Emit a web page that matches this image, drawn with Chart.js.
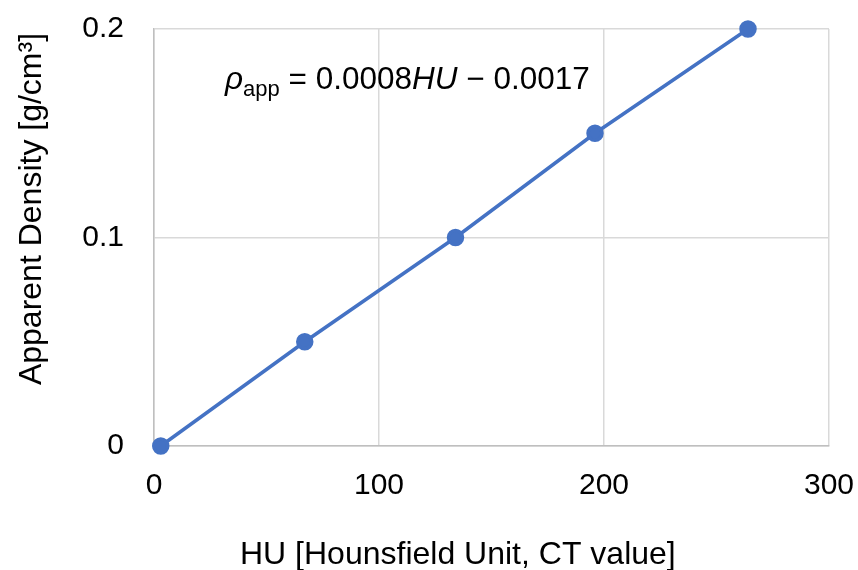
<!DOCTYPE html>
<html>
<head>
<meta charset="utf-8">
<script src="https://cdn.jsdelivr.net/npm/chart.js@4"></script>
<style>
  html, body { margin: 0; padding: 0; background: #fff; }
  #wrap { width: 858px; height: 570px; }
</style>
</head>
<body>
<div id="wrap"><canvas id="densityChart" width="858" height="570"></canvas></div>
<script>
const huValues = [3, 67, 134, 196, 264];
const densityValues = [0, 0.05, 0.1, 0.15, 0.2];
const xTitle = 'HU [Hounsfield Unit, CT value]';
const yTitle = 'Apparent Density [g/cm³]';

const FONT = 'Arial, "Liberation Sans", sans-serif';
const blue = '#4472C4';

// axis titles + regression label, drawn after the datasets
const textPlugin = {
  id: 'textPlugin',
  afterDraw(chart) {
    const ctx = chart.ctx;
    const area = chart.chartArea;
    ctx.save();
    ctx.fillStyle = '#000';
    ctx.textBaseline = 'alphabetic';

    // x title
    ctx.font = '32px ' + FONT;
    ctx.textAlign = 'left';
    ctx.fillText(xTitle, area.left + 86, 564);

    // y title (rotated)
    ctx.save();
    ctx.translate(41, 209);
    ctx.rotate(-Math.PI / 2);
    ctx.textAlign = 'center';
    ctx.fillText(yTitle, 0, 0);
    ctx.restore();

    // equation
    let x = area.left + 71;
    const y = area.top + 60;
    const parts = [
      { t: 'ρ', f: 'italic 31.5px ' + FONT, dy: 0 },
      { t: 'app', f: '22px ' + FONT, dy: 7 },
      { t: ' = 0.0008', f: '31.5px ' + FONT, dy: 0 },
      { t: 'HU', f: 'italic 31.5px ' + FONT, dy: 0 },
      { t: ' \u2212 0.0017', f: '31.5px ' + FONT, dy: 0 }
    ];
    ctx.textAlign = 'left';
    parts.forEach(p => {
      ctx.font = p.f;
      ctx.fillText(p.t, x, y + p.dy);
      x += ctx.measureText(p.t).width;
    });
    ctx.restore();
  }
};

const points = huValues.map((v, i) => ({ x: v, y: densityValues[i] }));

new Chart(document.getElementById('densityChart'), {
  type: 'line',
  data: {
    datasets: [{
      data: points,
      borderColor: blue,
      backgroundColor: blue,
      borderWidth: 3.5,
      pointRadius: 7,
      pointHoverRadius: 7,
      pointBackgroundColor: blue,
      pointBorderColor: blue,
      tension: 0,
      fill: false,
      clip: false
    }]
  },
  options: {
    responsive: false,
    animation: false,
    events: [],
    layout: { padding: { top: 29, right: 29, left: 0, bottom: 0 } },
    plugins: {
      legend: { display: false },
      tooltip: { enabled: false }
    },
    scales: {
      x: {
        type: 'linear',
        min: 0,
        max: 300,
        ticks: {
          stepSize: 100,
          color: '#000',
          padding: 22,
          font: { family: FONT, size: 30 }
        },
        grid: { color: '#d9d9d9', lineWidth: 1.5, drawTicks: false },
        border: { color: '#bfbfbf', width: 1.5 },
        afterFit(scale) {
          scale.height = 124;
          scale.paddingLeft = 0;
          scale.paddingRight = 0;
        }
      },
      y: {
        type: 'linear',
        min: 0,
        max: 0.2,
        ticks: {
          stepSize: 0.1,
          color: '#000',
          padding: 30,
          font: { family: FONT, size: 30 }
        },
        grid: { color: '#d9d9d9', lineWidth: 1.5, drawTicks: false },
        border: { color: '#bfbfbf', width: 1.5 },
        afterFit(scale) {
          scale.width = 154;
          scale.paddingTop = 0;
          scale.paddingBottom = 0;
        }
      }
    }
  },
  plugins: [textPlugin]
});
</script>
</body>
</html>
